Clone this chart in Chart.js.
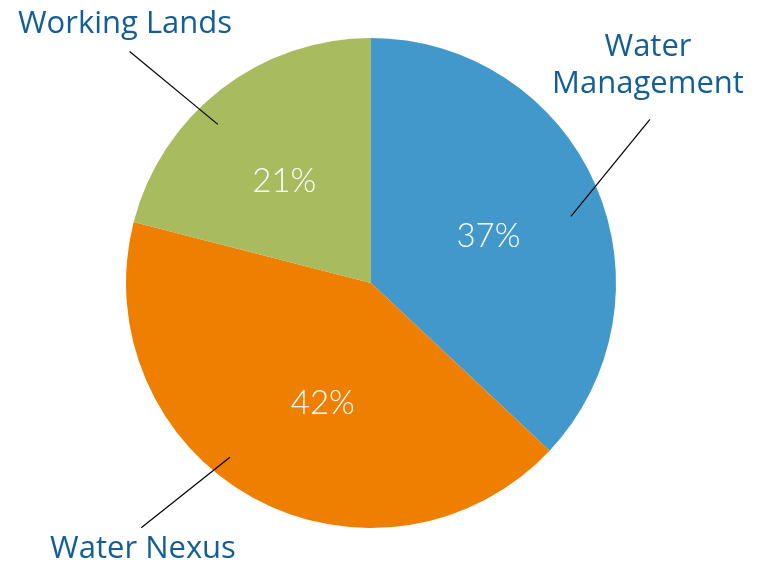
<!DOCTYPE html>
<html>
<head>
<meta charset="utf-8">
<script src="https://cdn.jsdelivr.net/npm/chart.js@4.4.0/dist/chart.umd.min.js"></script>
<style>
  html, body { margin: 0; padding: 0; background: #ffffff; }
  #wrap { width: 768px; height: 565px; position: relative; }
</style>
</head>
<body>
<div id="wrap"><canvas id="c" width="768" height="565"></canvas></div>
<script>
const categories = ["Water Management", "Water Nexus", "Working Lands"];
const labelLines = [["Water", "Management"], ["Water Nexus"], ["Working Lands"]];
const values = [37, 42, 21];
const colors = ["#4398CB", "#EE7F00", "#A8BB5F"];

// Callout geometry (angle in degrees clockwise from top, radius as fraction of pie radius)
const callouts = [
  { lineIn: [71.6, 0.86], lineOut: [59.6, 1.32], text: [277, -227], align: "center" },
  { lineIn: [219, 0.915], lineOut: [223.2, 1.37], text: [-228, 275], align: "center" },
  { lineIn: [316, 0.90], lineOut: [313.8, 1.365], text: [-246, -250], align: "center" }
];
const pctFrac = [0.515, 0.53, 0.545];
const pctAngleShift = [1.9, -7, -2.7];

const labelPlugin = {
  id: 'labelPlugin',
  afterDraw(chart) {
    const ctx = chart.ctx;
    const meta = chart.getDatasetMeta(0);
    const arc0 = meta.data[0];
    const cx = arc0.x, cy = arc0.y, R = arc0.outerRadius;
    const total = values.reduce((a, b) => a + b, 0);
    const pt = (deg, f) => {
      const a = deg * Math.PI / 180;
      return [cx + Math.sin(a) * R * f, cy - Math.cos(a) * R * f];
    };
    ctx.save();
    // percentages
    let cum = 0;
    ctx.fillStyle = '#ffffff';
    ctx.font = '300 33px Lato';
    ctx.textAlign = 'center';
    ctx.textBaseline = 'middle';
    values.forEach((v, i) => {
      const mid = (cum + v / 2) / total * 360 + pctAngleShift[i];
      cum += v;
      const [x, y] = pt(mid, pctFrac[i]);
      ctx.fillText(Math.round(v / total * 100) + '%', x, y);
    });
    // leader lines
    ctx.strokeStyle = '#000000';
    ctx.lineWidth = 1.2;
    callouts.forEach(c => {
      const [x1, y1] = pt(c.lineIn[0], c.lineIn[1]);
      const [x2, y2] = pt(c.lineOut[0], c.lineOut[1]);
      ctx.beginPath();
      ctx.moveTo(x1, y1);
      ctx.lineTo(x2, y2);
      ctx.stroke();
    });
    // category labels
    ctx.fillStyle = '#135E96';
    ctx.font = '31px "Open Sans"';
    ctx.textBaseline = 'alphabetic';
    callouts.forEach((c, i) => {
      ctx.textAlign = c.align;
      labelLines[i].forEach((line, j) => {
        ctx.fillText(line, cx + c.text[0], cy + c.text[1] + j * 37);
      });
    });
    ctx.restore();
  }
};

new Chart(document.getElementById('c'), {
  type: 'pie',
  data: {
    labels: categories,
    datasets: [{
      data: values,
      backgroundColor: colors,
      borderWidth: 0
    }]
  },
  options: {
    responsive: false,
    animation: false,
    layout: { padding: { top: 38, bottom: 37, left: 126, right: 152 } },
    plugins: {
      legend: { display: false },
      tooltip: { enabled: false }
    }
  },
  plugins: [labelPlugin]
});
</script>
</body>
</html>
